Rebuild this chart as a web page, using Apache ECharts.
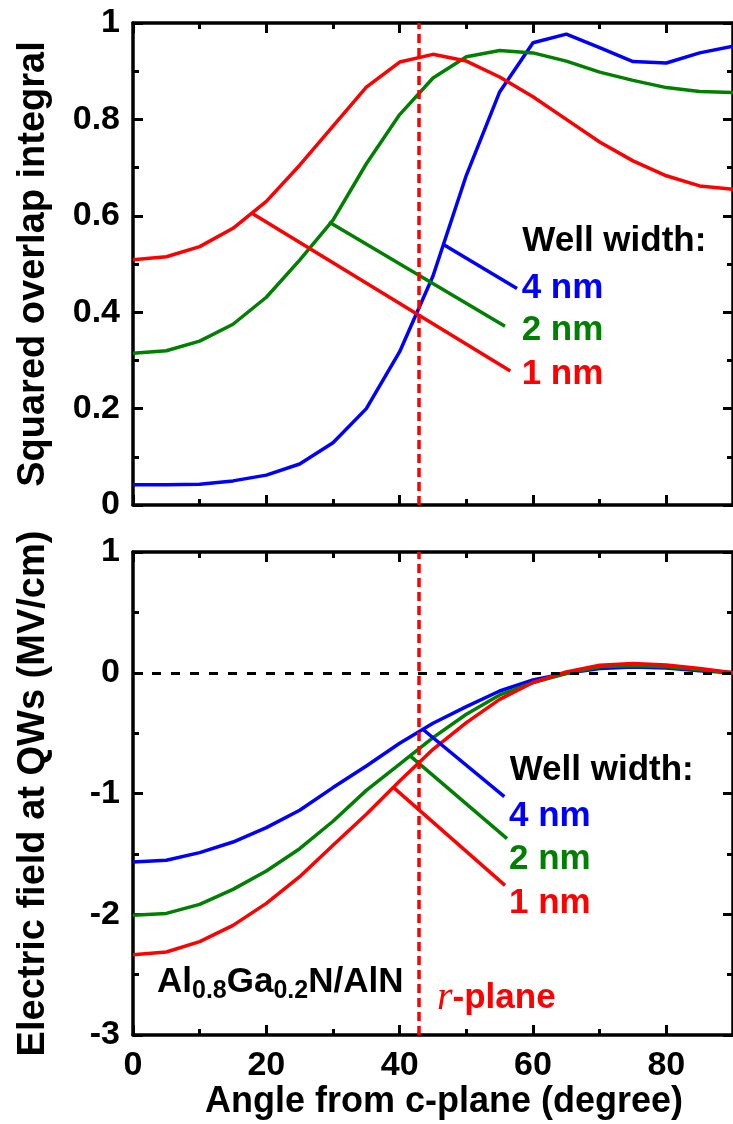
<!DOCTYPE html>
<html lang="en">
<head>
    <meta charset="utf-8">
    <title>Overlap integral and electric field vs angle</title>
    <script src="https://cdn.jsdelivr.net/npm/echarts@6/dist/echarts.min.js"></script>
    <style>
        html, body { margin: 0; padding: 0; background: #fff; }
    </style>
</head>
<body>
<div id="main" style="width:733px;height:1124px"></div>
<script type="text/javascript">

    // angle from c-plane (degree)
    var angles = [0, 5, 10, 15, 20, 25, 30, 35, 40, 45, 50, 55, 60, 65, 70, 75, 80, 85, 90];

    // squared overlap integral, per well width
    var overlap1nm = [0.509, 0.515, 0.536, 0.574, 0.630, 0.705, 0.786, 0.867, 0.919, 0.935, 0.921, 0.888, 0.847, 0.800, 0.753, 0.714, 0.683, 0.662, 0.655];
    var overlap2nm = [0.315, 0.320, 0.340, 0.375, 0.431, 0.508, 0.591, 0.708, 0.810, 0.886, 0.930, 0.943, 0.938, 0.921, 0.898, 0.881, 0.866, 0.858, 0.856];
    var overlap4nm = [0.042, 0.042, 0.043, 0.050, 0.062, 0.085, 0.129, 0.200, 0.318, 0.475, 0.684, 0.857, 0.959, 0.977, 0.949, 0.920, 0.917, 0.938, 0.952];

    // electric field at QWs (MV/cm)
    var field1nm = [-2.335, -2.313, -2.227, -2.092, -1.910, -1.689, -1.429, -1.172, -0.896, -0.634, -0.413, -0.220, -0.081, 0.007, 0.062, 0.076, 0.065, 0.035, 0.0];
    var field2nm = [-2.009, -1.993, -1.918, -1.794, -1.642, -1.457, -1.230, -0.974, -0.756, -0.537, -0.344, -0.184, -0.081, -0.007, 0.050, 0.060, 0.050, 0.025, 0.0];
    var field4nm = [-1.568, -1.553, -1.490, -1.402, -1.283, -1.139, -0.951, -0.772, -0.584, -0.418, -0.280, -0.151, -0.060, -0.004, 0.035, 0.048, 0.040, 0.017, 0.0];

    // pointer lines from curves to the legend text
    var overlapPointer1nm = [[17.9, 0.605], [56.6, 0.278]];
    var overlapPointer2nm = [[29.4, 0.587], [55.8, 0.371]];
    var overlapPointer4nm = [[46.5, 0.541], [57.6, 0.449]];
    var fieldPointer1nm = [[39.1, -0.951], [55.8, -1.761]];
    var fieldPointer2nm = [[41.7, -0.694], [56.1, -1.374]];
    var fieldPointer4nm = [[43.6, -0.474], [55.7, -1.026]];

    var rPlaneAngle = 42.8;

    // text anchors (left edge, middle) in data units
    var overlapNotes = [
        {text: 'Well width:', at: [58.4, 0.546], color: '#000000'},
        {text: '4 nm', at: [58.3, 0.450], color: '#0000ff'},
        {text: '2 nm', at: [58.3, 0.362], color: '#008000'},
        {text: '1 nm', at: [58.3, 0.272], color: '#ff0000'}
    ];
    var fieldNotes = [
        {text: 'Well width:', at: [56.5, -0.812], color: '#000000'},
        {text: '4 nm', at: [56.4, -1.186], color: '#0000ff'},
        {text: '2 nm', at: [56.4, -1.549], color: '#008000'},
        {text: '1 nm', at: [56.4, -1.908], color: '#ff0000'}
    ];
    var materialNote = [3.6, -2.56];
    var planeNote = [45.6, -2.70];

    var FONT = 'Liberation Sans, Arial, sans-serif';
    var RED = '#ff0000', GREEN = '#008000', BLUE = '#0000ff';

    function zip(xs, ys) {
        return xs.map(function (x, i) { return [x, ys[i]]; });
    }

    // x axes: a major axis (every 20) plus a minor one (every 10), both top and bottom
    function xAxes(gridIndex, withLabels) {
        var base = {gridIndex: gridIndex, type: 'value', min: 0, max: 90, splitLine: {show: false}};
        function make(position, interval, len, showLine, labels) {
            return Object.assign({}, base, {
                position: position,
                interval: interval,
                axisLine: {show: showLine, onZero: false, lineStyle: {color: '#000', width: 3.5}},
                axisTick: {show: true, inside: true, length: len, lineStyle: {color: '#000', width: 3}},
                axisLabel: labels ? {
                    show: true, showMaxLabel: false, margin: 14,
                    color: '#000', fontSize: 34, fontWeight: 'bold', fontFamily: FONT
                } : {show: false}
            });
        }
        var axes = [
            make('bottom', 20, 10, true, withLabels),
            make('bottom', 10, 6, false, false),
            make('top', 20, 10, true, false),
            make('top', 10, 6, false, false)
        ];
        if (withLabels) {
            axes[0].name = 'Angle from c-plane (degree)';
            axes[0].nameLocation = 'middle';
            axes[0].nameGap = 47;
            axes[0].nameTextStyle = {
                color: '#000', fontSize: 36, fontWeight: 'bold', fontFamily: FONT,
                padding: [0, 0, 0, 22]
            };
        }
        return axes;
    }

    function yAxes(gridIndex, min, max, interval, name) {
        var common = {
            gridIndex: gridIndex, type: 'value', min: min, max: max, interval: interval,
            splitLine: {show: false},
            axisLine: {show: true, onZero: false, lineStyle: {color: '#000', width: 3.5}},
            axisTick: {show: true, inside: true, length: 10, lineStyle: {color: '#000', width: 3}},
            minorTick: {show: true, splitNumber: 2, length: 6, lineStyle: {color: '#000', width: 3}}
        };
        var left = Object.assign({}, common, {
            position: 'left',
            name: name,
            nameLocation: 'middle',
            nameGap: 80,
            nameTextStyle: {color: '#000', fontSize: 38, fontWeight: 'bold', fontFamily: FONT},
            axisLabel: {show: true, margin: 13, color: '#000', fontSize: 34, fontWeight: 'bold', fontFamily: FONT}
        });
        var right = Object.assign({}, common, {position: 'right', axisLabel: {show: false}});
        return [left, right];
    }

    function curve(data, color, xi, yi) {
        return {
            type: 'line', data: data, xAxisIndex: xi, yAxisIndex: yi,
            showSymbol: false, symbol: 'none', silent: true, animation: false,
            lineStyle: {color: color, width: 3.5}
        };
    }

    function rPlaneLine(xi, yi) {
        return {
            type: 'line', data: [], xAxisIndex: xi, yAxisIndex: yi, silent: true, animation: false,
            markLine: {
                silent: true, symbol: 'none', animation: false, label: {show: false},
                lineStyle: {color: RED, width: 3.5, type: [9, 5], opacity: 1},
                data: [{xAxis: rPlaneAngle}]
            }
        };
    }

    function noteLabel(at, xi, yi, label) {
        return {
            type: 'scatter', xAxisIndex: xi, yAxisIndex: yi, silent: true, animation: false,
            symbolSize: 0, data: [at], itemStyle: {opacity: 1},
            label: Object.assign({show: true, position: 'right', distance: 0, opacity: 1}, label)
        };
    }

    function notes(list, xi, yi) {
        return list.map(function (n) {
            return noteLabel(n.at, xi, yi, {
                formatter: n.text, color: n.color, fontSize: 35, fontWeight: 'bold', fontFamily: FONT
            });
        });
    }

    var series = [
        curve(zip(angles, overlap4nm), BLUE, 0, 0),
        curve(zip(angles, overlap2nm), GREEN, 0, 0),
        curve(zip(angles, overlap1nm), RED, 0, 0),
        curve(overlapPointer4nm, BLUE, 0, 0),
        curve(overlapPointer2nm, GREEN, 0, 0),
        curve(overlapPointer1nm, RED, 0, 0),
        rPlaneLine(0, 0),

        curve(zip(angles, field4nm), BLUE, 4, 2),
        curve(zip(angles, field2nm), GREEN, 4, 2),
        curve(zip(angles, field1nm), RED, 4, 2),
        curve(fieldPointer4nm, BLUE, 4, 2),
        curve(fieldPointer2nm, GREEN, 4, 2),
        curve(fieldPointer1nm, RED, 4, 2),
        rPlaneLine(4, 2),

        // zero-field reference line
        {
            type: 'line', xAxisIndex: 4, yAxisIndex: 2, data: [], silent: true, animation: false,
            markLine: {
                silent: true, symbol: 'none', animation: false, label: {show: false},
                lineStyle: {color: '#000', width: 3, type: [9, 10], opacity: 1},
                data: [{yAxis: 0}]
            }
        }
    ];

    series = series.concat(notes(overlapNotes, 0, 0), notes(fieldNotes, 4, 2));

    series.push(noteLabel(materialNote, 4, 2, {
        formatter: '{a|Al}{s|0.8}{a|Ga}{s|0.2}{a|N/AlN}',
        rich: {
            a: {color: '#000', fontSize: 35, fontWeight: 'bold', fontFamily: FONT, lineHeight: 36},
            s: {color: '#000', fontSize: 25, fontWeight: 'bold', fontFamily: FONT, padding: [18, 0, 0, 0]}
        }
    }));
    series.push(noteLabel(planeNote, 4, 2, {
        formatter: '{r|r}{p|-plane}',
        rich: {
            r: {color: RED, fontSize: 40, fontStyle: 'italic', fontFamily: 'Liberation Serif, serif'},
            p: {color: RED, fontSize: 35, fontWeight: 'bold', fontFamily: FONT}
        }
    }));

    var myChart = echarts.init(document.getElementById('main'), null, {renderer: 'canvas'});
    var option = {
        backgroundColor: '#ffffff',
        animation: false,
        grid: [
            {left: 133, top: 23, width: 602, height: 482},
            {left: 133, top: 552, width: 602, height: 483}
        ],
        xAxis: xAxes(0, false).concat(xAxes(1, true)),
        yAxis: yAxes(0, 0, 1, 0.2, 'Squared overlap integral')
            .concat(yAxes(1, -3, 1, 1, 'Electric field at QWs (MV/cm)')),
        series: series
    };
    myChart.setOption(option);
</script>
</body>
</html>
